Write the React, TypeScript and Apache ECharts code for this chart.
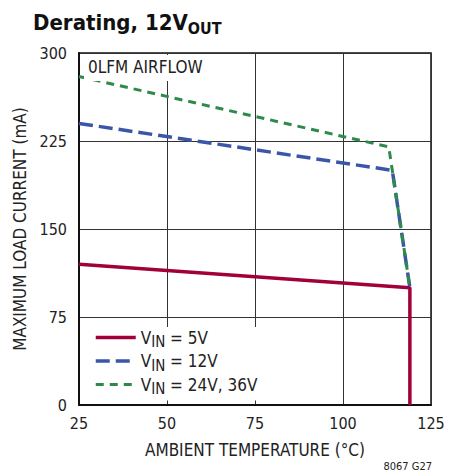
import React, { useEffect, useRef } from "react";
import * as echarts from "echarts";

const seriesNames = ["V{sub|IN} = 5V", "V{sub|IN} = 12V", "V{sub|IN} = 24V, 36V"];
const temp5 = [25, 119, 119];
const load5 = [120, 100, 0];
const temp12 = [25, 114, 119];
const load12 = [240, 200, 100];
const temp24 = [25, 113, 114, 119];
const load24 = [280, 220, 200, 100];
const xTicks = { min: 25, max: 125, interval: 25 };
const yTicks = { min: 0, max: 300, interval: 75 };

const FONT = "'Liberation Sans Narrow', 'DejaVu Sans Condensed', 'Roboto Condensed', sans-serif";
const RED = "#a1003a";
const BLUE = "#3a56a8";
const GREEN = "#2e8a4a";
const WIDTHS = [3.5, 3.5, 3];

function pairs(xs: number[], ys: number[]) {
  return xs.map((x, i) => [x, ys[i]]);
}

export default function App() {
  const ref = useRef<HTMLDivElement>(null);
  useEffect(() => {
    document.body.style.margin = "0";
    const chart = echarts.init(ref.current!, null, { renderer: "svg" });
    const rich = {
      sub: { fontSize: 15, fontFamily: FONT, color: "#222", padding: [9, 0, 0, 0] },
    };
    chart.setOption({
      animation: false,
      backgroundColor: "#fff",
      title: [
        {
          text: "{a|Derating, 12V}{b|OUT}",
          left: 28,
          top: 3,
          textStyle: {
            rich: {
              a: { fontSize: 22, fontWeight: "bold", fontFamily: FONT, color: "#111" },
              b: { fontSize: 16, fontWeight: "bold", fontFamily: FONT, color: "#111", padding: [12, 0, 0, 0] },
            },
          },
        },
        {
          text: "0LFM AIRFLOW",
          left: 84,
          top: 55,
          backgroundColor: "#fff",
          padding: [3, 4, 6, 4],
          textStyle: { fontSize: 17, fontWeight: "normal", fontFamily: FONT, color: "#222" },
        },
        {
          text: "8067 G27",
          right: 30,
          top: 461,
          padding: 0,
          textStyle: { fontSize: 11, fontWeight: "normal", fontFamily: FONT, color: "#222" },
        },
      ],
      legend: {
        orient: "vertical",
        left: 82,
        top: 327,
        backgroundColor: "#fff",
        padding: [2, 8, 4, 12],
        itemWidth: 40,
        itemHeight: 14,
        itemGap: 3,
        itemStyle: { opacity: 0 },
        data: seriesNames.map((n, i) => ({ name: n, lineStyle: { width: WIDTHS[i] } })),
        formatter: (n: string) => n,
        textStyle: { fontSize: 17, fontFamily: FONT, color: "#222", rich },
      },
      grid: {
        left: 79,
        right: 31,
        top: 53,
        bottom: 71,
        show: true,
        borderColor: "#111",
        borderWidth: 1.5,
      },
      xAxis: {
        type: "value",
        min: xTicks.min,
        max: xTicks.max,
        interval: xTicks.interval,
        name: "AMBIENT TEMPERATURE (°C)",
        nameLocation: "middle",
        nameGap: 36,
        nameTextStyle: { fontSize: 17, fontFamily: FONT, color: "#222" },
        axisLine: { lineStyle: { color: "#111", width: 2 } },
        axisTick: { show: false },
        axisLabel: { fontSize: 16, fontFamily: FONT, color: "#222", margin: 10 },
        splitLine: { lineStyle: { color: "#333", width: 1 } },
      },
      yAxis: {
        type: "value",
        min: yTicks.min,
        max: yTicks.max,
        interval: yTicks.interval,
        name: "MAXIMUM LOAD CURRENT (mA)",
        nameLocation: "middle",
        nameGap: 51,
        nameTextStyle: { fontSize: 17, fontFamily: FONT, color: "#222" },
        axisLine: { show: true, lineStyle: { color: "#111", width: 2 } },
        axisTick: { show: false },
        axisLabel: { fontSize: 16, fontFamily: FONT, color: "#222", margin: 12 },
        splitLine: { lineStyle: { color: "#333", width: 1 } },
      },
      series: [
        {
          name: seriesNames[0],
          type: "line",
          data: pairs(temp5, load5),
          symbol: "none",
          color: RED,
          lineStyle: { color: RED, width: WIDTHS[0] },
          z: 2,
        },
        {
          name: seriesNames[1],
          type: "line",
          data: pairs(temp12, load12),
          symbol: "none",
          color: BLUE,
          lineStyle: { color: BLUE, width: WIDTHS[1], type: [14, 6] },
          z: 3,
        },
        {
          name: seriesNames[2],
          type: "line",
          data: pairs(temp24, load24),
          symbol: "none",
          color: GREEN,
          lineStyle: { color: GREEN, width: WIDTHS[2], type: [8, 6] },
          z: 4,
        },
      ],
    });
    return () => chart.dispose();
  }, []);
  return <div ref={ref} style={{ width: 462, height: 476 }} />;
}
